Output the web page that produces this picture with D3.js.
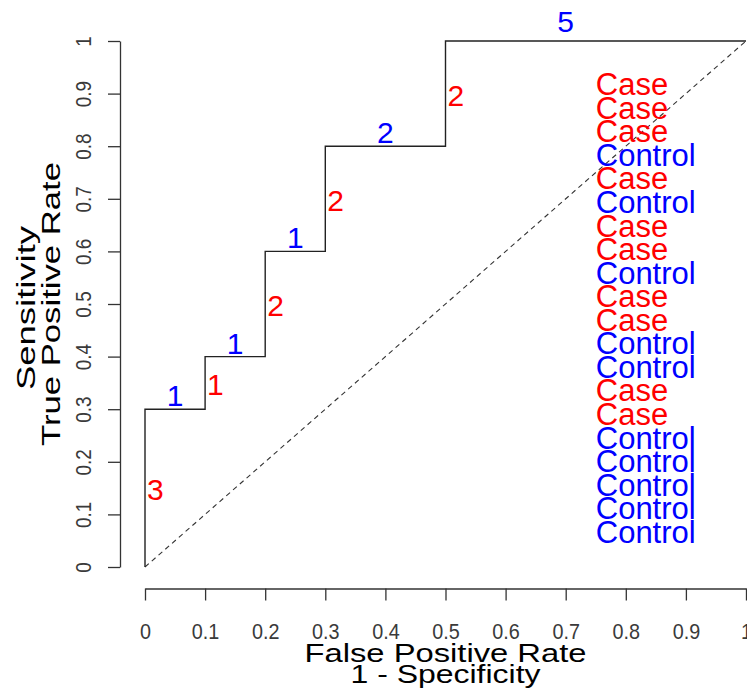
<!DOCTYPE html>
<html>
<head>
<meta charset="utf-8">
<script src="https://cdn.jsdelivr.net/npm/d3@7"></script>
<style>
  body { margin: 0; background: #fff; }
  text { font-family: "Liberation Sans", Arial, sans-serif; }
</style>
</head>
<body>
<div id="chart"></div>
<script>
// ROC step curve
let fpr = [0, 0, 0.1, 0.1, 0.2, 0.2, 0.3, 0.3, 0.5, 0.5, 1];
let tpr = [0, 0.3, 0.3, 0.4, 0.4, 0.6, 0.6, 0.8, 0.8, 1, 1];

// case counts on vertical steps
let caseCounts = [3, 1, 2, 2, 2];
let caseX = [0, 0.1, 0.2, 0.3, 0.5];
let caseY = [0.15, 0.35, 0.5, 0.7, 0.9];

// control counts on horizontal steps
let controlCounts = [1, 1, 1, 2, 5];
let controlX = [0.05, 0.15, 0.25, 0.4, 0.7];
let controlY = [0.3, 0.4, 0.6, 0.8, 1.012];

// ranked outcome list
let outcomes = ["Case", "Case", "Case", "Control", "Case", "Control", "Case", "Case",
  "Control", "Case", "Case", "Control", "Control", "Case", "Case",
  "Control", "Control", "Control", "Control", "Control"];

let ticks = [0, 0.1, 0.2, 0.3, 0.4, 0.5, 0.6, 0.7, 0.8, 0.9, 1];

let width = 747, height = 698;
let red = "#ff0000", blue = "#0000ff";

let svg = d3.select("#chart").append("svg")
  .attr("width", width)
  .attr("height", height);

let x = d3.scaleLinear().domain([0, 1]).range([145, 746]);
let y = d3.scaleLinear().domain([0, 1]).range([567, 41]);

// axes (R style: detached from the plot region)
let xAxis = d3.axisBottom(x).tickValues(ticks).tickFormat(d3.format("")).tickSize(12).tickSizeOuter(0);
let yAxis = d3.axisLeft(y).tickValues(ticks).tickFormat(d3.format("")).tickSize(12).tickSizeOuter(0);

let gx = svg.append("g")
  .attr("transform", "translate(0,588.5)")
  .call(xAxis);
gx.selectAll("text")
  .attr("y", 50.5).attr("dy", 0)
  .attr("transform", "scale(0.88,1)")
  .attr("font-size", 22.5);

let gy = svg.append("g")
  .attr("transform", "translate(120,0)")
  .call(yAxis);
gy.selectAll(".tick text")
  .attr("x", 0).attr("y", -29.5).attr("dy", 0)
  .attr("text-anchor", "middle")
  .attr("transform", "rotate(-90) scale(0.88,1)")
  .attr("font-size", 21.5);

svg.selectAll(".domain, .tick line").attr("stroke", "#333").attr("stroke-width", 1.3);
svg.selectAll(".tick text").attr("fill", "#3a3a3a").attr("font-family", "Liberation Sans, Arial, sans-serif");

// chance diagonal
svg.append("line")
  .attr("x1", x(0)).attr("y1", y(0))
  .attr("x2", x(1)).attr("y2", y(1))
  .attr("stroke", "#333")
  .attr("stroke-width", 1.1)
  .attr("stroke-dasharray", "5,4");

// step line
let line = d3.line().x(d => x(d[0])).y(d => y(d[1]));
svg.append("path")
  .datum(fpr.map((f, i) => [f, tpr[i]]))
  .attr("fill", "none")
  .attr("stroke", "#222")
  .attr("stroke-width", 1.4)
  .attr("d", line);

// count labels
svg.selectAll(".case-n")
  .data(caseCounts)
  .join("text")
  .attr("class", "case-n")
  .attr("x", (d, i) => x(caseX[i]) + 2)
  .attr("y", (d, i) => y(caseY[i]) + 12)
  .attr("font-size", 30)
  .attr("fill", red)
  .text(d => d);

svg.selectAll(".control-n")
  .data(controlCounts)
  .join("text")
  .attr("class", "control-n")
  .attr("x", (d, i) => x(controlX[i]))
  .attr("y", (d, i) => y(controlY[i]) - 3)
  .attr("text-anchor", "middle")
  .attr("font-size", 30)
  .attr("fill", blue)
  .text(d => d);

// outcome list
let rank = d3.scalePoint().domain(d3.range(outcomes.length)).range([y(0.897), y(0.046)]);
svg.selectAll(".outcome")
  .data(outcomes)
  .join("text")
  .attr("class", "outcome")
  .attr("x", x(0.75))
  .attr("y", (d, i) => rank(i))
  .attr("font-size", 31)
  .attr("fill", d => d == "Case" ? red : blue)
  .text(d => d);

// axis titles
let cx = (x(0) + x(1)) / 2, cy = (y(0) + y(1)) / 2;
svg.append("text")
  .attr("x", cx).attr("y", 661.5)
  .attr("text-anchor", "middle")
  .attr("font-size", 25)
  .attr("textLength", 282).attr("lengthAdjust", "spacingAndGlyphs")
  .text("False Positive Rate");
svg.append("text")
  .attr("x", cx).attr("y", 682.5)
  .attr("text-anchor", "middle")
  .attr("font-size", 25)
  .attr("textLength", 190).attr("lengthAdjust", "spacingAndGlyphs")
  .text("1 - Specificity");

svg.append("text")
  .attr("transform", "translate(60," + cy + ") rotate(-90)")
  .attr("text-anchor", "middle")
  .attr("font-size", 25)
  .attr("textLength", 284).attr("lengthAdjust", "spacingAndGlyphs")
  .text("True Positive Rate");
svg.append("text")
  .attr("transform", "translate(35," + (cy + 4) + ") rotate(-90)")
  .attr("text-anchor", "middle")
  .attr("font-size", 25)
  .attr("textLength", 164).attr("lengthAdjust", "spacingAndGlyphs")
  .text("Sensitivity");
</script>
</body>
</html>
